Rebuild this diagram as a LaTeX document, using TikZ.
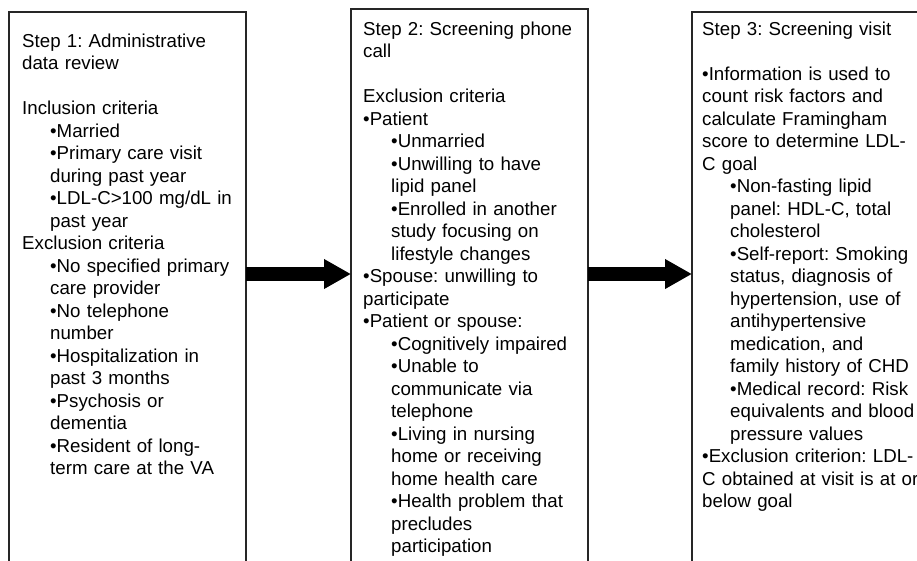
\documentclass[tikz,border=0pt]{standalone}
\usepackage{fontspec}
\setmainfont{Liberation Sans}
\usetikzlibrary{arrows.meta}
\newcommand\myind{\hspace*{28pt}}
\frenchspacing
\begin{document}
\begin{tikzpicture}[x=1pt,y=-1pt,
  box/.style={draw=black!85, line width=1.1pt, anchor=north west, minimum width=237pt, minimum height=600pt, inner sep=0pt, outer sep=0pt},
  txt/.style={anchor=north west, inner sep=0pt, align=left, text width=232pt, font=\fontsize{18.7}{22.5}\selectfont\frenchspacing},
  bigarrow/.style={line width=14pt, -{Triangle[length=27pt,width=28pt]}}]
\useasboundingbox (0,0) rectangle (917,560);
\clip (0,0) rectangle (917,560);
\node[box] (b1) at (9,12) {};
\node[box] (b2) at (351,9) {};
\node[box] (b3) at (692,12) {};
\node[txt] (t1) at (22,33.4) {Step 1: Administrative\\
data review\\[22.5pt]
Inclusion criteria\\
\myind•Married\\
\myind•Primary care visit\\
\myind during past year\\
\myind•LDL-C>100 mg/dL in\\
\myind past year\\
Exclusion criteria\\
\myind•No specified primary\\
\myind care provider\\
\myind•No telephone\\
\myind number\\
\myind•Hospitalization in\\
\myind past 3 months\\
\myind•Psychosis or\\
\myind dementia\\
\myind•Resident of long-\\
\myind term care at the VA};
\node[txt] (t2) at (363,21.4) {Step 2: Screening phone\\
call\\[22.5pt]
Exclusion criteria\\
•Patient\\
\myind•Unmarried\\
\myind•Unwilling to have\\
\myind lipid panel\\
\myind•Enrolled in another\\
\myind study focusing on\\
\myind lifestyle changes\\
•Spouse: unwilling to\\
participate\\
•Patient or spouse:\\
\myind•Cognitively impaired\\
\myind•Unable to\\
\myind communicate via\\
\myind telephone\\
\myind•Living in nursing\\
\myind home or receiving\\
\myind home health care\\
\myind•Health problem that\\
\myind precludes\\
\myind participation};
\node[txt] (t3) at (702,21.4) {Step 3: Screening visit\\[22.5pt]
•Information is used to\\
count risk factors and\\
calculate Framingham\\
score to determine LDL-\\
C goal\\
\myind•Non-fasting lipid\\
\myind panel: HDL-C, total\\
\myind cholesterol\\
\myind•Self-report: Smoking\\
\myind status, diagnosis of\\
\myind hypertension, use of\\
\myind antihypertensive\\
\myind medication, and\\
\myind family history of CHD\\
\myind•Medical record: Risk\\
\myind equivalents and blood\\
\myind pressure values\\
•Exclusion criterion: LDL-\\
C obtained at visit is at or\\
below goal};
\coordinate (ay) at (0,274);
\draw[bigarrow] (b1.north east |- ay) -- (b2.north west |- ay);
\draw[bigarrow] (b2.north east |- ay) -- (b3.north west |- ay);
\end{tikzpicture}
\end{document}
